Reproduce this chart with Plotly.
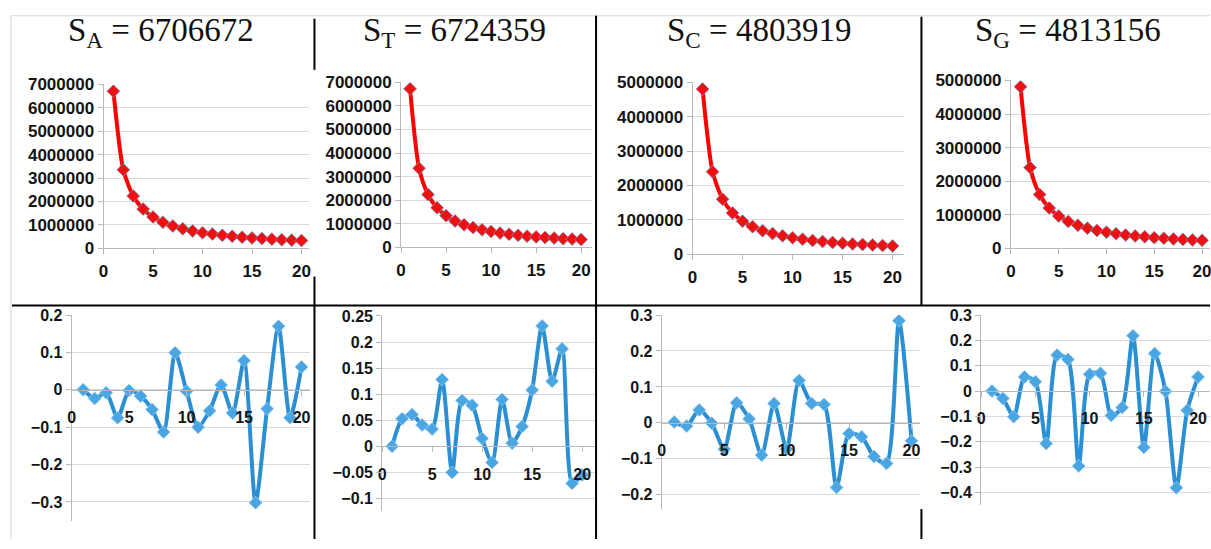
import plotly.graph_objects as go

W, H = 1211, 549

# Position index along the horizontal axis
n = list(range(1, 21))

titles = ["S<sub>A</sub> = 6706672", "S<sub>T</sub> = 6724359",
          "S<sub>C</sub> = 4803919", "S<sub>G</sub> = 4813156"]

# Upper row: decaying sums
top_A = [6706672, 3353000, 2236000, 1677000, 1341000, 1118000, 958000, 838000, 745000, 671000,
         610000, 559000, 516000, 479000, 447000, 419000, 395000, 373000, 353000, 335000]
top_T = [6724359, 3362000, 2241000, 1681000, 1345000, 1121000, 961000, 841000, 747000, 672000,
         611000, 560000, 517000, 480000, 448000, 420000, 396000, 374000, 354000, 336000]
top_C = [4803919, 2402000, 1601000, 1201000, 961000, 801000, 686000, 600000, 534000, 480000,
         437000, 400000, 370000, 343000, 320000, 300000, 283000, 267000, 253000, 240000]
top_G = [4813156, 2407000, 1604000, 1203000, 963000, 802000, 688000, 602000, 535000, 481000,
         438000, 401000, 370000, 344000, 321000, 301000, 283000, 267000, 253000, 241000]

# Lower row: fluctuation series
bot_A = [0.0, -0.023, -0.008, -0.075, -0.002, -0.017, -0.053, -0.113, 0.099, -0.004,
         -0.100, -0.056, 0.013, -0.062, 0.078, -0.302, -0.051, 0.170, -0.075, 0.061]
bot_T = [0.0, 0.053, 0.061, 0.041, 0.033, 0.128, -0.050, 0.088, 0.079, 0.015,
         -0.031, 0.090, 0.006, 0.038, 0.108, 0.231, 0.125, 0.187, -0.071, -0.055]
bot_C = [0.002, -0.009, 0.036, -0.001, -0.073, 0.056, 0.011, -0.090, 0.054, -0.073,
         0.118, 0.054, 0.051, -0.180, -0.030, -0.039, -0.094, -0.113, 0.284, -0.050]
bot_G = [0.0, -0.029, -0.101, 0.056, 0.037, -0.207, 0.142, 0.125, -0.295, 0.066,
         0.070, -0.096, -0.065, 0.218, -0.222, 0.148, -0.001, -0.381, -0.076, 0.056]

x_ticks = [0, 5, 10, 15, 20]


def fx(p):
    return p / W


def fy(p):
    return 1 - p / H


# (series, x-left px, x-right px, x px of "20", y px of top, y px of bottom, y range, dtick, kind)
panels = [
    (top_A, 99, 306, 298, 78, 248, [0, 7000000], 1000000, "top"),
    (top_T, 398, 590, 579, 76, 247, [0, 7000000], 1000000, "top"),
    (top_C, 691, 903, 892, 76, 254, [0, 5000000], 1000000, "top"),
    (top_G, 1011, 1211, 1203, 74, 248, [0, 5000000], 1000000, "top"),
    (bot_A, 67, 307, 298, 317, 530, [-0.35, 0.2], 0.1, "bot"),
    (bot_T, 379, 593, 580, 318, 520.5, [-0.125, 0.25], 0.05, "bot"),
    (bot_C, 660, 920, 911, 317, 518, [-0.24, 0.3], 0.1, "bot"),
    (bot_G, 981, 1211, 1199, 317, 514, [-0.45, 0.3], 0.1, "bot"),
]

tick_font = dict(family="Liberation Sans", size=17, color="#141414", weight="bold")
grid_col = "#d9d9d9"
axis_col = "#b8b8b8"

traces = []
axes = {}
for i, (vals, xl, xr, x20, yt, yb, yr, dt, kind) in enumerate(panels, start=1):
    xname = "xaxis" if i == 1 else f"xaxis{i}"
    yname = "yaxis" if i == 1 else f"yaxis{i}"
    xref = "x" if i == 1 else f"x{i}"
    yref = "y" if i == 1 else f"y{i}"
    xmax = 20 * (xr - xl) / (x20 - xl)

    if kind == "top":
        traces.append(go.Scatter(
            x=n, y=vals, xaxis=xref, yaxis=yref, mode="lines+markers",
            line=dict(color="#ff0000", width=4, shape="spline", smoothing=0.7),
            marker=dict(symbol="diamond", size=10, color="#f01010",
                        line=dict(color="rgba(110,160,215,0.7)", width=1)),
            showlegend=False, hoverinfo="skip"))
        fsize = 17
    else:
        traces.append(go.Scatter(
            x=n, y=vals, xaxis=xref, yaxis=yref, mode="lines+markers",
            line=dict(color="#2b8fd4", width=4, shape="spline", smoothing=0.7),
            marker=dict(symbol="diamond", size=10, color="#49a6e2",
                        line=dict(color="rgba(150,200,240,0.8)", width=1)),
            showlegend=False, hoverinfo="skip"))
        fsize = 16

    axes[yname] = dict(
        domain=[fy(yb), fy(yt)], range=yr, dtick=dt, tick0=0,
        tickformat="d" if kind == "top" else "",
        anchor=xref, showgrid=True, gridcolor=grid_col, gridwidth=1,
        zeroline=False, showline=True, linecolor=axis_col, linewidth=1,
        ticks="outside", ticklen=5, tickcolor=axis_col,
        tickfont=dict(tick_font, size=fsize), fixedrange=True)

    xa = dict(
        domain=[fx(xl), fx(xr)], range=[0, xmax], tickvals=x_ticks,
        showgrid=False, zeroline=False, showline=True, linecolor=axis_col,
        linewidth=1, ticks="outside", ticklen=5, tickcolor=axis_col,
        tickfont=dict(tick_font, size=fsize), ticklabeloverflow="allow",
        fixedrange=True)
    if kind == "top":
        xa["anchor"] = yref
        xa["ticklabelstandoff"] = 2
    else:
        # horizontal axis crosses at zero
        zero_px = yt + (yb - yt) * (yr[1] - 0) / (yr[1] - yr[0])
        xa["anchor"] = "free"
        xa["position"] = fy(zero_px)
        xa["ticklabelstandoff"] = 8
    axes[xname] = xa

fig = go.Figure(data=traces)
fig.update_layout(**axes)

# Panel titles
title_x = [157, 452, 758, 1068]
annotations = []
for t, cx in zip(titles, title_x):
    annotations.append(dict(
        text=t, x=fx(cx), y=fy(1), xref="paper", yref="paper",
        xanchor="center", yanchor="top", showarrow=False,
        font=dict(family="Liberation Serif", size=33, color="#111111")))

# Table rules and frame lines
shapes = []


def rule(x0, y0, x1, y1, color="#000000", width=2):
    shapes.append(dict(type="line", xref="paper", yref="paper",
                       x0=fx(x0), y0=fy(y0), x1=fx(x1), y1=fy(y1),
                       line=dict(color=color, width=width)))


rule(6, 7, 1211, 7, color="#d6d6d6", width=1)
rule(6, 7, 6, 549, color="#d6d6d6", width=1)
rule(7, 307, 1211, 307)
rule(311, 10, 311, 63)
rule(311, 277, 311, 549)
rule(594, 7, 594, 549)
rule(921, 8, 921, 307)
rule(921, 518, 921, 549)

fig.update_layout(
    width=W, height=H, margin=dict(l=0, r=0, t=0, b=0),
    paper_bgcolor="white", plot_bgcolor="white",
    annotations=annotations, shapes=shapes)

fig.write_html("out.html")
